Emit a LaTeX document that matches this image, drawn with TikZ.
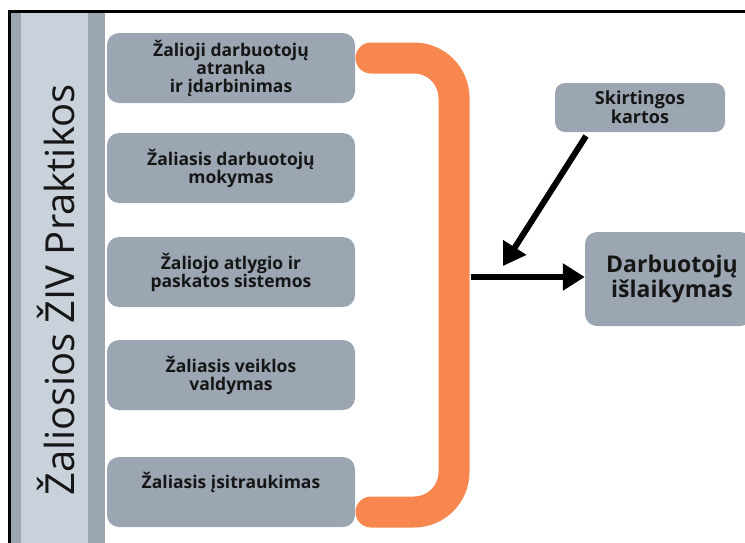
\documentclass[tikz,border=0pt]{standalone}
\usepackage{fontspec}
\setmainfont{Open Sans}
\usetikzlibrary{arrows.meta}
\definecolor{boxgrey}{HTML}{9BA6B2}
\definecolor{barlight}{HTML}{C9D1DB}
\definecolor{bracketorange}{HTML}{F7864F}
\definecolor{txt}{HTML}{161616}
\tikzset{
  pbox/.style={draw=none, fill=boxgrey, rounded corners=12pt, minimum width=248pt, minimum height=70pt,
    align=center, text=txt, font=\fontsize{17.5}{18}\selectfont\bfseries, inner sep=0pt},
  conn/.style={draw=black, line width=6pt, -{Triangle[length=22pt,width=26pt]}}
}
\begin{document}
\begin{tikzpicture}[x=1pt,y=-1pt]
\useasboundingbox (0,0) rectangle (745,542);
\begin{scope}
\clip (0,0) rectangle (745,542);
% left bar
\fill[boxgrey] (11,12) rectangle (105,560);
\fill[barlight] (21,12) rectangle (88,560);
% frame
\draw[black, line width=3pt] (9.5,560) -- (9.5,11) -- (760,11);
% right box (partly outside)
\node[pbox, minimum width=167pt, minimum height=94pt, font=\fontsize{23}{23}\selectfont\bfseries] (ret) at (668.5,279) {\hspace*{7pt}Darbuotojų\\\hspace*{7pt}išlaikymas};
\end{scope}
\node[rotate=90, text=txt, font=\fontsize{40}{48}\selectfont, inner sep=0pt] (title) at (56,290) {Žaliosios ŽIV Praktikos};
% practice boxes
\node[pbox] (b1) at (231,68) {Žalioji darbuotojų\\atranka\\ir įdarbinimas};
\node[pbox] (b2) at (231,168) {Žaliasis darbuotojų\\mokymas};
\node[pbox] (b3) at (231,272) {Žaliojo atlygio ir\\paskatos sistemos};
\node[pbox] (b4) at (231,375) {Žaliasis veiklos\\valdymas};
\node[pbox] (b5) at (231,492) {Žaliasis įsitraukimas\\\strut};
% bracket
\draw[bracketorange, line width=31pt, line cap=round] (371,58) -- (414,58) arc[start angle=-90, end angle=0, radius=40] -- (454,472) arc[start angle=0, end angle=90, radius=40] -- (371,512);
% generations box
\node[pbox, minimum width=170pt, minimum height=49pt, rounded corners=10pt, font=\fontsize{18}{19}\selectfont\bfseries] (gen) at (640,107.5) {Skirtingos\\kartos};
% connectors
\coordinate (bout) at (471,277);
\coordinate (gtail) at (586,136);
\coordinate (gtip) at (503,266);
\draw[conn] (bout) -- (ret.west |- bout);
\draw[conn] (gtail) -- (gtip);
\end{tikzpicture}
\end{document}
